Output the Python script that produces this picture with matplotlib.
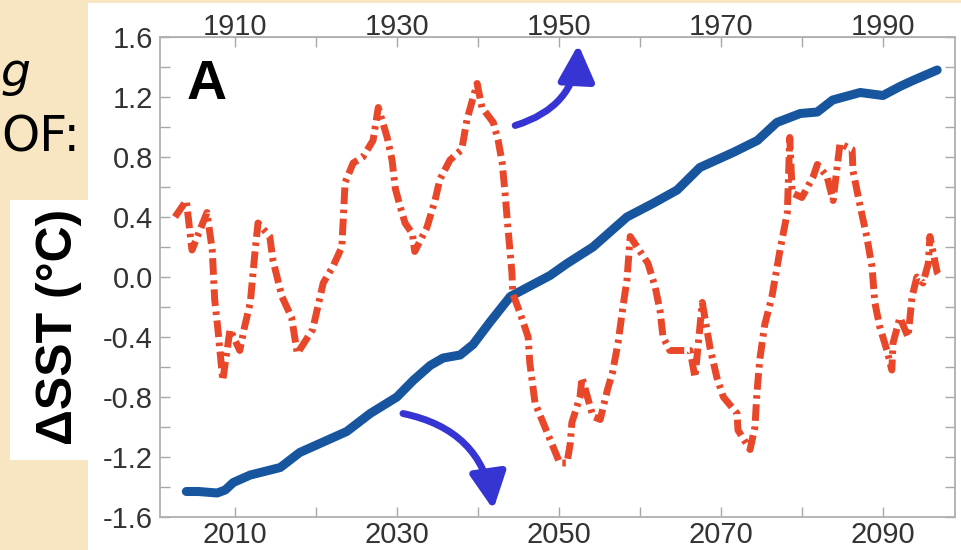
import numpy as np
import matplotlib.pyplot as plt
from matplotlib.patches import Rectangle
from matplotlib.ticker import MultipleLocator, FormatStrFormatter

plt.rcParams['axes.unicode_minus'] = False
plt.rcParams['font.family'] = ['Liberation Sans', 'DejaVu Sans']

# forced SST trend (blue) and leading EOF pattern (red), in deg C
trend_year = [2004.0, 2005.5, 2007.8, 2008.8, 2009.8, 2011.9, 2015.6, 2018.0, 2020.9,
              2023.8, 2026.7, 2030.0, 2032.0, 2034.1, 2035.7, 2037.8, 2039.4, 2041.5,
              2044.0, 2046.1, 2048.9, 2051.0, 2054.2, 2058.4, 2061.6, 2064.6, 2067.4,
              2071.5, 2074.5, 2076.9, 2079.8, 2081.9, 2083.8, 2087.2, 2090.0, 2092.1,
              2093.7, 2096.7]
trend_sst = [-1.43, -1.43, -1.44, -1.42, -1.37, -1.32, -1.27, -1.17, -1.10,
             -1.03, -0.91, -0.80, -0.69, -0.59, -0.54, -0.52, -0.45, -0.30,
             -0.13, -0.07, 0.01, 0.09, 0.20, 0.40, 0.49, 0.58, 0.73,
             0.83, 0.91, 1.03, 1.09, 1.10, 1.18, 1.23, 1.21, 1.27,
             1.31, 1.38]

eof_year = [2002.6, 2004.0, 2004.7, 2006.55, 2007.2, 2007.5, 2007.9, 2008.5, 2009.4,
            2010.6, 2011.2, 2011.9, 2012.5, 2012.85, 2014.3, 2014.7, 2015.8, 2017.0,
            2017.7, 2019.6, 2020.9, 2022.1, 2023.2, 2023.6, 2024.6, 2025.8, 2027.05,
            2027.7, 2028.8, 2029.4, 2029.8, 2030.4, 2031.0, 2031.9, 2032.2, 2033.7,
            2034.7, 2035.3, 2036.55, 2038.0, 2038.65, 2039.9, 2040.5, 2041.9, 2042.5,
            2043.0, 2043.35, 2043.7, 2044.2, 2044.3, 2045.2, 2046.2, 2046.4, 2047.05,
            2050.1, 2051.0, 2051.4, 2051.6, 2052.6, 2052.85, 2054.2, 2055.1, 2056.0,
            2056.6, 2057.3, 2057.9, 2058.4, 2058.8, 2061.0, 2061.9, 2062.5, 2062.85,
            2063.7, 2064.95, 2066.2, 2066.8, 2067.7, 2068.65, 2069.5, 2070.3, 2072.0,
            2072.1, 2073.6, 2074.2, 2074.45, 2074.8, 2075.4, 2076.3, 2077.3, 2078.2,
            2078.5, 2078.8, 2080.0, 2081.4, 2081.9, 2083.1, 2083.85, 2084.7, 2086.2,
            2086.3, 2087.2, 2088.0, 2088.65, 2089.0, 2089.6, 2090.5, 2091.1, 2091.25,
            2092.1, 2093.1, 2093.6, 2094.2, 2094.95, 2095.6, 2095.8, 2096.7, 2097.05]
eof_sst = [0.40, 0.51, 0.18, 0.43, 0.18, -0.15, -0.35, -0.69, -0.35,
           -0.49, -0.33, -0.17, 0.18, 0.36, 0.27, 0.11, -0.13, -0.27,
           -0.51, -0.35, -0.04, 0.07, 0.20, 0.63, 0.76, 0.80, 0.91,
           1.13, 0.93, 0.78, 0.59, 0.47, 0.36, 0.29, 0.17, 0.33,
           0.51, 0.65, 0.78, 0.85, 1.05, 1.29, 1.13, 1.03, 0.91,
           0.76, 0.56, 0.33, 0.03, -0.11, -0.24, -0.40, -0.57, -0.84,
           -1.24, -1.24, -1.11, -0.97, -0.80, -0.67, -0.93, -0.95, -0.75,
           -0.64, -0.44, -0.20, -0.02, 0.27, 0.09, -0.07, -0.23, -0.40,
           -0.49, -0.49, -0.49, -0.67, -0.17, -0.47, -0.67, -0.80, -0.91,
           -1.02, -1.15, -1.00, -0.77, -0.55, -0.32, -0.13, 0.18, 0.43,
           0.93, 0.56, 0.53, 0.67, 0.75, 0.67, 0.51, 0.89, 0.85,
           0.71, 0.47, 0.27, 0.07, -0.17, -0.33, -0.49, -0.62, -0.44,
           -0.27, -0.40, -0.13, 0.00, -0.04, 0.09, 0.27, 0.03, 0.00]

W, H = 961, 550
fig = plt.figure(figsize=(W / 100, H / 100), dpi=100)
fig.patch.set_facecolor('#f8e5c2')

def px_rect(x0, y0, x1, y1):
    # rectangle given in pixel coords measured from the top-left corner
    return Rectangle((x0 / W, 1 - y1 / H), (x1 - x0) / W, (y1 - y0) / H,
                     transform=fig.transFigure, facecolor='white',
                     edgecolor='none', zorder=-1)

fig.add_artist(px_rect(88, 3, W, H))
fig.add_artist(px_rect(10, 200, 88, 460))

ax = fig.add_axes([160 / W, 33 / H, 795 / W, 480 / H])
ax.plot(trend_year, trend_sst, color='#17559f', lw=6.5, solid_capstyle='round',
        solid_joinstyle='round')
ax.plot(eof_year, eof_sst, color='#e8472a', lw=5, dash_capstyle='butt',
        linestyle=(0, (2.4, 0.8, 0.5, 0.8)))

ax.set_xlim(2000.75, 2098.9)
ax.set_ylim(-1.6, 1.6)
ax.xaxis.set_minor_locator(MultipleLocator(10))
ax.set_xticks([2010, 2030, 2050, 2070, 2090])
ax.yaxis.set_major_locator(MultipleLocator(0.4))
ax.yaxis.set_minor_locator(MultipleLocator(0.2))
ax.yaxis.set_major_formatter(FormatStrFormatter('%.1f'))

for s in ax.spines.values():
    s.set_color('#b0b0b0')
    s.set_linewidth(1.3)
ax.tick_params(which='both', direction='in', length=7, width=1, color='#a8a8a8',
               top=False, right=True, labelsize=21, labelcolor='#333333')
ax.tick_params(axis='y', pad=5)
ax.tick_params(axis='x', pad=3)

top = ax.secondary_xaxis('top', functions=(lambda x: x - 100, lambda x: x + 100))
top.set_xticks([1910, 1930, 1950, 1970, 1990])
top.xaxis.set_minor_locator(MultipleLocator(10))
top.spines['top'].set_color('#b0b0b0')
top.tick_params(which='both', direction='in', length=7, width=1, color='#a8a8a8',
                labelsize=21, labelcolor='#333333', pad=-3)

ax.text(0.033, 0.9, 'A', transform=ax.transAxes, fontsize=40, fontweight='bold',
        ha='left', va='center')

# curved pointers between the two time axes
arrow_kw = dict(arrowstyle='-|>,head_length=1.1,head_width=0.55', color='#3634d2',
                lw=5, mutation_scale=20, shrinkA=0, shrinkB=0)
ax.annotate('', xy=(2052.4, 1.55), xytext=(2044.6, 1.01), annotation_clip=False,
            arrowprops=dict(connectionstyle='arc3,rad=0.35', **arrow_kw))
ax.annotate('', xy=(2041.9, -1.55), xytext=(2030.75, -0.91), annotation_clip=False,
            arrowprops=dict(connectionstyle='arc3,rad=-0.35', **arrow_kw))

fig.text(59 / W, 1 - 327 / H, 'ΔSST (°C)', rotation=90, fontsize=36,
         fontweight='bold', ha='center', va='center')
fig.text(30 / W, 1 - 86 / H, 'g', fontsize=34, style='italic', ha='right',
         va='baseline', family='DejaVu Sans')
fig.text(80 / W, 1 - 152 / H, 'OF:', fontsize=35, ha='right', va='baseline',
         family='DejaVu Sans')

fig.savefig('out.png', dpi=100, facecolor=fig.get_facecolor())
